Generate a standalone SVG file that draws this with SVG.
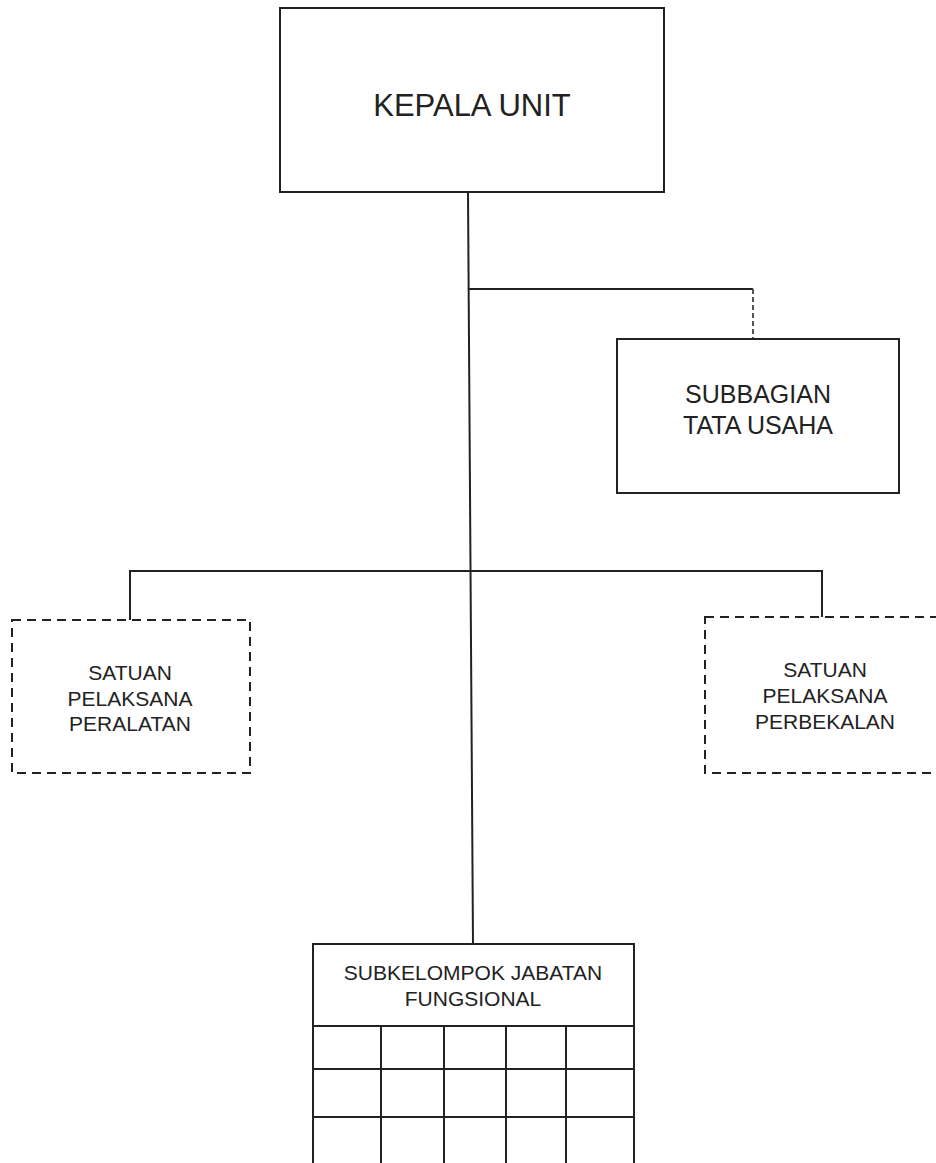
<svg xmlns="http://www.w3.org/2000/svg" width="936" height="1163" viewBox="0 0 936 1163">
<style>
.box{fill:#fff;stroke:#222;stroke-width:2}
.dbox{fill:#fff;stroke:#222;stroke-width:2;stroke-dasharray:9 6}
.ln{stroke:#222;stroke-width:2;fill:none}
.t{font-family:"Liberation Sans",Arial,sans-serif;fill:#222;text-anchor:middle}
</style>
<rect width="936" height="1163" fill="#fff"/>
<g id="connectors">
<path class="ln" d="M468,192 L473,944"/>
<path class="ln" d="M468,289 H753"/>
<path d="M753,289 V339" stroke="#555" stroke-width="2" stroke-dasharray="5 3" fill="none"/>
<path class="ln" d="M130,620 V571 H822 V617"/>
</g>
<g id="kepala-unit">
<rect class="box" x="280" y="8" width="384" height="184"/>
<text class="t" x="472" y="116" font-size="31">KEPALA UNIT</text>
</g>
<g id="subbagian-tata-usaha">
<rect class="box" x="617" y="339" width="282" height="154"/>
<text class="t" x="758" y="403" font-size="25">SUBBAGIAN</text>
<text class="t" x="758" y="434" font-size="25">TATA USAHA</text>
</g>
<g id="satuan-peralatan">
<rect class="dbox" x="12" y="620" width="238" height="153"/>
<text class="t" x="130" y="680" font-size="21">SATUAN</text>
<text class="t" x="130" y="706" font-size="21">PELAKSANA</text>
<text class="t" x="130" y="731" font-size="21">PERALATAN</text>
</g>
<g id="satuan-perbekalan">
<rect class="dbox" x="705" y="617" width="245" height="156"/>
<text class="t" x="825" y="677" font-size="21">SATUAN</text>
<text class="t" x="825" y="703" font-size="21">PELAKSANA</text>
<text class="t" x="825" y="729" font-size="21">PERBEKALAN</text>
</g>
<g id="subkelompok-jabatan-fungsional">
<rect class="box" x="313" y="944" width="321" height="230"/>
<text class="t" x="473" y="980" font-size="21">SUBKELOMPOK JABATAN</text>
<text class="t" x="473" y="1006" font-size="21">FUNGSIONAL</text>
<path class="ln" d="M313,1026 H634 M313,1069 H634 M313,1117 H634 M381,1026 V1170 M444,1026 V1170 M506,1026 V1170 M566,1026 V1170"/>
</g>
</svg>
